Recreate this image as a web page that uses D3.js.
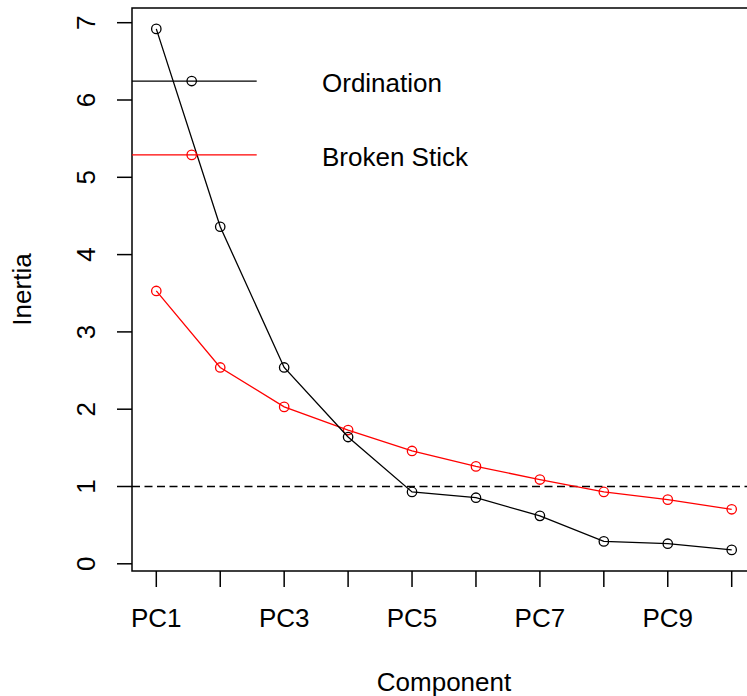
<!DOCTYPE html>
<html>
<head>
<meta charset="utf-8">
<script src="https://cdnjs.cloudflare.com/ajax/libs/d3/7.8.5/d3.min.js"></script>
<style>
  body { margin: 0; background: #fff; }
  text { font-family: "Liberation Sans", Arial, sans-serif; font-size: 26px; fill: #000; }
</style>
</head>
<body>
<div id="chart"></div>
<script>
"use strict";

// values
var components = ["PC1", "PC2", "PC3", "PC4", "PC5", "PC6", "PC7", "PC8", "PC9", "PC10"];
var ordination = [6.92, 4.36, 2.54, 1.64, 0.93, 0.855, 0.62, 0.29, 0.26, 0.18];
var brokenStick = [3.53, 2.54, 2.03, 1.73, 1.46, 1.26, 1.09, 0.93, 0.83, 0.705];
var yTicks = [0, 1, 2, 3, 4, 5, 6, 7];
var xLabelled = ["PC1", "PC3", "PC5", "PC7", "PC9"];
var threshold = 1;
var legendItems = [
  { label: "Ordination", color: "#000000", value: 6.245 },
  { label: "Broken Stick", color: "#ff0000", value: 5.29 }
];

var width = 747, height = 696;

// plot box (right edge runs past the window, as in the reference)
var box = { left: 132, top: 8, bottom: 571, right: 756 };

var x = d3.scaleLinear().domain([1, 10]).range([156.3, 731.7]);
var y = d3.scaleLinear().domain([0, 7]).range([563.8, 22.7]);

var svg = d3.select("#chart")
  .append("svg")
  .attr("width", width)
  .attr("height", height);

// box
svg.append("path")
  .attr("d", "M" + box.right + "," + box.top + "H" + box.left + "V" + box.bottom + "H" + box.right)
  .attr("fill", "none")
  .attr("stroke", "#000")
  .attr("stroke-width", 1.5);

// y axis ticks + labels
var yAxis = svg.append("g");
yAxis.selectAll("line")
  .data(yTicks)
  .enter().append("line")
    .attr("x1", box.left - 15).attr("x2", box.left)
    .attr("y1", function(d) { return y(d); })
    .attr("y2", function(d) { return y(d); })
    .attr("stroke", "#000").attr("stroke-width", 1.5);
yAxis.selectAll("text")
  .data(yTicks)
  .enter().append("text")
    .attr("transform", function(d) { return "translate(95," + y(d) + ") rotate(-90)"; })
    .attr("text-anchor", "middle")
    .text(function(d) { return d; });

// x axis ticks + labels
var xAxis = svg.append("g");
xAxis.selectAll("line")
  .data(components)
  .enter().append("line")
    .attr("x1", function(d, i) { return x(i + 1); })
    .attr("x2", function(d, i) { return x(i + 1); })
    .attr("y1", box.bottom).attr("y2", box.bottom + 16)
    .attr("stroke", "#000").attr("stroke-width", 1.5);
xAxis.selectAll("text")
  .data(xLabelled)
  .enter().append("text")
    .attr("x", function(d) { return x(components.indexOf(d) + 1); })
    .attr("y", 627)
    .attr("text-anchor", "middle")
    .text(function(d) { return d; });

// axis titles
svg.append("text")
  .attr("x", (box.left + box.right) / 2)
  .attr("y", 691)
  .attr("text-anchor", "middle")
  .text("Component");
svg.append("text")
  .attr("transform", "translate(31," + ((box.top + box.bottom) / 2) + ") rotate(-90)")
  .attr("text-anchor", "middle")
  .text("Inertia");

// dashed threshold line
svg.append("line")
  .attr("x1", box.left).attr("x2", box.right)
  .attr("y1", y(threshold)).attr("y2", y(threshold))
  .attr("stroke", "#000").attr("stroke-width", 1.4)
  .attr("stroke-dasharray", "8,4.5");

// series
var line = d3.line()
  .x(function(d, i) { return x(i + 1); })
  .y(function(d) { return y(d); });

function drawSeries(values, color) {
  var g = svg.append("g");
  g.append("path")
    .datum(values)
    .attr("d", line)
    .attr("fill", "none")
    .attr("stroke", color)
    .attr("stroke-width", 1.3);
  g.selectAll("circle")
    .data(values)
    .enter().append("circle")
      .attr("cx", function(d, i) { return x(i + 1); })
      .attr("cy", function(d) { return y(d); })
      .attr("r", 4.7)
      .attr("fill", "none")
      .attr("stroke", color)
      .attr("stroke-width", 1.3);
}

drawSeries(brokenStick, "#ff0000");
drawSeries(ordination, "#000000");

// legend
var legend = svg.selectAll("g.legend")
  .data(legendItems)
  .enter().append("g")
    .attr("class", "legend");
legend.append("line")
  .attr("x1", box.left).attr("x2", 256.7)
  .attr("y1", function(d) { return y(d.value); })
  .attr("y2", function(d) { return y(d.value); })
  .attr("stroke", function(d) { return d.color; })
  .attr("stroke-width", 1.3);
legend.append("circle")
  .attr("cx", 191.7)
  .attr("cy", function(d) { return y(d.value); })
  .attr("r", 4.7)
  .attr("fill", "none")
  .attr("stroke", function(d) { return d.color; })
  .attr("stroke-width", 1.3);
legend.append("text")
  .attr("x", 322)
  .attr("y", function(d) { return y(d.value) + 11; })
  .text(function(d) { return d.label; });
</script>
</body>
</html>
